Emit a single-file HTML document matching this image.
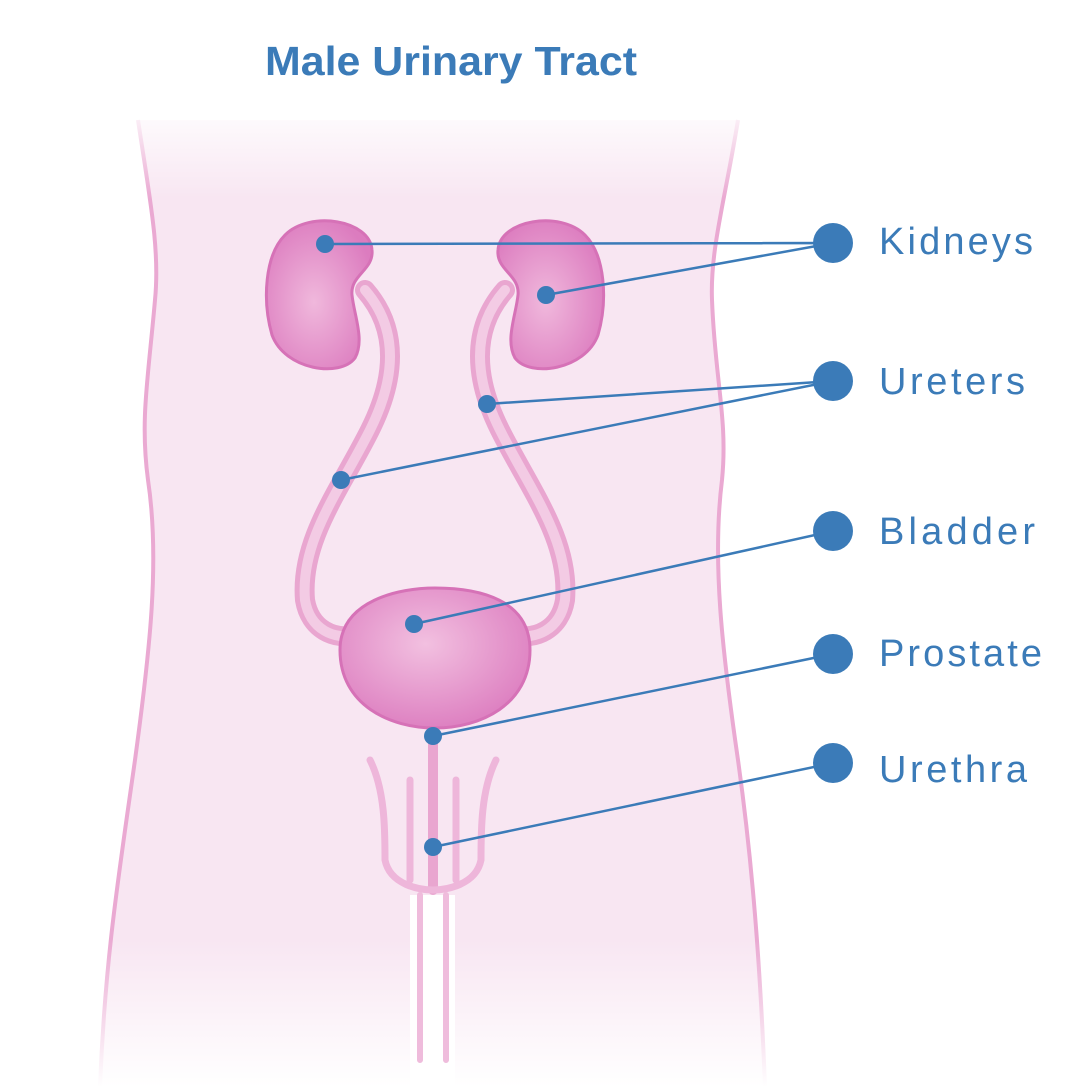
<!DOCTYPE html>
<html><head><meta charset="utf-8"><style>
html,body{margin:0;padding:0;background:#fff;}
svg{display:block;}
</style></head><body>
<svg width="1090" height="1087" viewBox="0 0 1090 1087" xmlns="http://www.w3.org/2000/svg">
<defs>
<linearGradient id="fade" x1="0" y1="0" x2="0" y2="1">
<stop offset="0" stop-color="#fff" stop-opacity="1"/>
<stop offset="0.1" stop-color="#fff" stop-opacity="0"/>
<stop offset="0.85" stop-color="#fff" stop-opacity="0"/>
<stop offset="1" stop-color="#fff" stop-opacity="1"/>
</linearGradient>
<radialGradient id="kid" cx="0.45" cy="0.55" r="0.6">
<stop offset="0" stop-color="#f0b8dc"/>
<stop offset="1" stop-color="#dc7cbf"/>
</radialGradient>
<radialGradient id="bl" cx="0.45" cy="0.4" r="0.65">
<stop offset="0" stop-color="#f2c0e0"/>
<stop offset="1" stop-color="#dc7cbf"/>
</radialGradient>
</defs>
<!-- body -->
<path d="M138 120 C150 200,160 250,155 300 C148 380,140 420,148 480 C160 560,150 650,135 760 C118 880,105 960,100 1087 L410 1087 L410 895 L455 895 L455 1087 L765 1087 C760 960,752 860,738 760 C722 650,712 560,722 480 C728 420,715 380,712 300 C710 250,725 200,738 120 Z" fill="#f8e6f2"/>
<path d="M138 120 C150 200,160 250,155 300 C148 380,140 420,148 480 C160 560,150 650,135 760 C118 880,105 960,100 1087 M765 1087 C760 960,752 860,738 760 C722 650,712 560,722 480 C728 420,715 380,712 300 C710 250,725 200,738 120" fill="none" stroke="#eaa9d2" stroke-width="4"/>
<rect x="90" y="100" width="700" height="987" fill="url(#fade)"/>
<!-- ureters -->
<g fill="none" stroke-linecap="round">
<path d="M365 290 C400 330,395 380,370 430 C340 490,300 540,305 600 C310 630,335 640,355 635" stroke="#e9a6d0" stroke-width="20"/>
<path d="M365 290 C400 330,395 380,370 430 C340 490,300 540,305 600 C310 630,335 640,355 635" stroke="#f3cbe4" stroke-width="10"/>
<path d="M505 290 C470 330,475 380,500 430 C530 490,570 540,565 600 C560 630,535 640,515 635" stroke="#e9a6d0" stroke-width="20"/>
<path d="M505 290 C470 330,475 380,500 430 C530 490,570 540,565 600 C560 630,535 640,515 635" stroke="#f3cbe4" stroke-width="10"/>
<path d="M433 720 L433 890" stroke="#e9a6d0" stroke-width="10"/>
<path d="M370 760 C385 790,385 830,385 860 C390 885,420 890,433 890 C446 890,476 885,481 860 C481 830,481 790,496 760" stroke="#eeb6da" stroke-width="7"/>
<path d="M410 780 L410 880 M456 780 L456 880" stroke="#eeb6da" stroke-width="7"/>
<path d="M420 895 L420 1060 M446 895 L446 1060" stroke="#efbcdc" stroke-width="6"/>
</g>
<!-- kidneys -->
<path d="M285 235 C310 210,370 220,372 250 C374 270,350 275,352 295 C354 315,365 340,355 358 C340 378,285 370,272 335 C262 300,265 255,285 235 Z" fill="url(#kid)" stroke="#d672b7" stroke-width="3"/>
<path d="M585 235 C560 210,500 220,498 250 C496 270,520 275,518 295 C516 315,505 340,515 358 C530 378,585 370,598 335 C608 300,605 255,585 235 Z" fill="url(#kid)" stroke="#d672b7" stroke-width="3"/>
<!-- bladder -->
<path d="M340 650 C340 600,400 588,435 588 C480 588,530 600,530 650 C530 705,480 728,435 728 C390 728,340 705,340 650 Z" fill="url(#bl)" stroke="#d672b7" stroke-width="3"/>
<!-- connectors -->
<g stroke="#3b7bb8" stroke-width="2.5" fill="none">
<path d="M833 243 L325 244 M833 243 L546 295"/>
<path d="M833 381 L487 404 M833 381 L341 480"/>
<path d="M833 531 L414 624"/>
<path d="M833 654 L433 736"/>
<path d="M833 763 L433 847"/>
</g>
<g fill="#3b7bb8">
<circle cx="325" cy="244" r="9"/><circle cx="546" cy="295" r="9"/>
<circle cx="487" cy="404" r="9"/><circle cx="341" cy="480" r="9"/>
<circle cx="414" cy="624" r="9"/><circle cx="433" cy="736" r="9"/><circle cx="433" cy="847" r="9"/>
<circle cx="833" cy="243" r="20"/><circle cx="833" cy="381" r="20"/><circle cx="833" cy="531" r="20"/>
<circle cx="833" cy="654" r="20"/><circle cx="833" cy="763" r="20"/>
</g>
<g font-family="Liberation Sans, sans-serif" fill="#3b7bb8" font-size="38">
<text x="879" y="254" textLength="154" lengthAdjust="spacing">Kidneys</text>
<text x="879" y="394" textLength="146" lengthAdjust="spacing">Ureters</text>
<text x="879" y="544" textLength="156" lengthAdjust="spacing">Bladder</text>
<text x="879" y="666" textLength="163" lengthAdjust="spacing">Prostate</text>
<text x="879" y="782" textLength="148" lengthAdjust="spacing">Urethra</text>
</g>
<text x="265" y="75" textLength="372" lengthAdjust="spacingAndGlyphs" font-family="Liberation Sans, sans-serif" font-weight="bold" font-size="41" fill="#3b7bb8">Male Urinary Tract</text>
</svg>
</body></html>
